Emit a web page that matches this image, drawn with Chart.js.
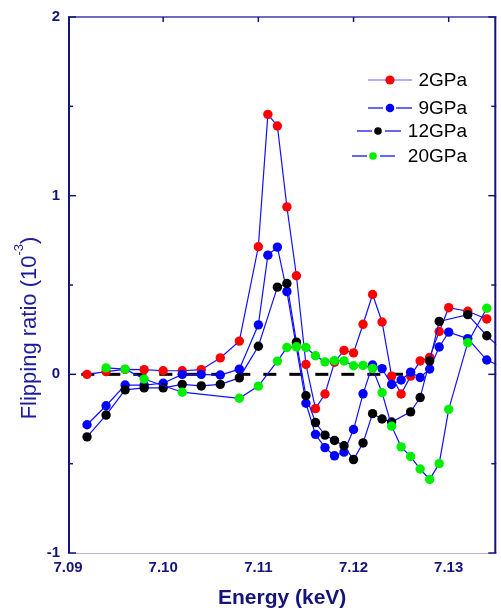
<!DOCTYPE html>
<html>
<head>
<meta charset="utf-8">
<script src="https://cdn.jsdelivr.net/npm/chart.js@4.4.0/dist/chart.umd.min.js"></script>
<style>
    body { margin: 0; background: #ffffff; }
    #wrap { width: 501px; height: 611px; }
</style>
</head>
<body>
<div id="wrap"><canvas id="myChart" width="501" height="611"></canvas></div>
<script>
    // series names as in the legend
    var seriesNames = ["2GPa", "9GPa", "12GPa", "20GPa"];
    var markerColors = ["#ff0000", "#0000ff", "#000000", "#00ee00"];

    // 2GPa
    var energy2 = [7.092, 7.094, 7.096, 7.098, 7.100, 7.102, 7.104, 7.106, 7.108, 7.110, 7.111, 7.112, 7.113, 7.114, 7.115, 7.116, 7.117, 7.118, 7.119, 7.120, 7.121, 7.122, 7.123, 7.124, 7.125, 7.126, 7.127, 7.128, 7.129, 7.130, 7.132, 7.134];
    var ratio2 = [0.00, 0.015, 0.028, 0.026, 0.02, 0.02, 0.026, 0.092, 0.186, 0.714, 1.455, 1.39, 0.937, 0.552, 0.055, -0.192, -0.11, 0.068, 0.134, 0.12, 0.28, 0.447, 0.293, -0.01, -0.11, -0.01, 0.075, 0.095, 0.24, 0.373, 0.353, 0.31];

    // 9GPa
    var energy9 = [7.092, 7.094, 7.096, 7.098, 7.100, 7.102, 7.104, 7.106, 7.108, 7.110, 7.111, 7.112, 7.113, 7.115, 7.116, 7.117, 7.118, 7.119, 7.120, 7.121, 7.122, 7.123, 7.124, 7.125, 7.126, 7.127, 7.128, 7.129, 7.130, 7.132, 7.134, 7.136];
    var ratio9 = [-0.282, -0.176, -0.06, -0.06, -0.05, 0.0, 0.0, -0.004, 0.029, 0.277, 0.667, 0.712, 0.463, -0.162, -0.336, -0.41, -0.456, -0.435, -0.309, -0.109, 0.052, 0.032, -0.057, -0.032, 0.012, -0.018, 0.03, 0.153, 0.236, 0.2, 0.08, 0.033];

    // 12GPa
    var energy12 = [7.092, 7.094, 7.096, 7.098, 7.100, 7.102, 7.104, 7.106, 7.108, 7.110, 7.112, 7.113, 7.114, 7.115, 7.116, 7.117, 7.118, 7.119, 7.120, 7.121, 7.122, 7.123, 7.124, 7.126, 7.127, 7.128, 7.129, 7.132, 7.134, 7.136];
    var ratio12 = [-0.35, -0.228, -0.087, -0.076, -0.076, -0.056, -0.065, -0.056, -0.02, 0.157, 0.488, 0.508, 0.18, -0.12, -0.27, -0.34, -0.37, -0.40, -0.477, -0.384, -0.22, -0.25, -0.267, -0.21, -0.13, 0.075, 0.296, 0.334, 0.216, 0.12];

    // 20GPa
    var energy20 = [7.094, 7.096, 7.098, 7.102, 7.108, 7.110, 7.112, 7.113, 7.114, 7.115, 7.116, 7.117, 7.118, 7.119, 7.120, 7.121, 7.122, 7.123, 7.124, 7.125, 7.126, 7.127, 7.128, 7.129, 7.130, 7.132, 7.134];
    var ratio20 = [0.036, 0.029, -0.026, -0.1, -0.134, -0.066, 0.074, 0.15, 0.154, 0.15, 0.104, 0.07, 0.077, 0.075, 0.048, 0.05, 0.033, -0.103, -0.29, -0.406, -0.46, -0.53, -0.588, -0.5, -0.196, 0.177, 0.37];

    // dashed zero line
    var zeroLineX = [7.0914, 7.1252];
    var zeroLineY = [0, 0];

    // axes
    var xTicks = [7.09, 7.10, 7.11, 7.12, 7.13];
    var yTicks = [-1, -0.5, 0, 0.5, 1, 1.5, 2];

    var navy = "#14147a";
    var fontName = '"Liberation Sans", Arial, sans-serif';

    function toPoints(xs, ys) {
        return xs.map(function (x, i) { return { x: x, y: ys[i] }; });
    }

    function seriesSet(i, xs, ys) {
        return {
            label: seriesNames[i],
            data: toPoints(xs, ys),
            borderColor: "#1010ff",
            borderWidth: 1.2,
            backgroundColor: markerColors[i],
            pointBackgroundColor: markerColors[i],
            pointBorderWidth: 0,
            pointRadius: 4.7,
            tension: 0,
            order: 4 - i
        };
    }

    // legend sample layout: line pieces, marker, text
    var legendRows = [
        { y: 80, l1: [368, 412], l2: null, mx: 390, r: 4.6, line: "#6060ff" },
        { y: 108, l1: [368, 383], l2: [396, 412], mx: 390, r: 4.3, line: "#0000ee" },
        { y: 131, l1: [357, 372], l2: [385, 401], mx: 378, r: 3.8, line: "#0000ee" },
        { y: 156, l1: [352, 367], l2: [380, 395], mx: 373, r: 3.8, line: "#0000ee" }
    ];

    var decorPlugin = {
        id: "decor",
        afterDraw: function (chart) {
            var ctx = chart.ctx, a = chart.chartArea;
            var xs = chart.scales.x, ys = chart.scales.y;
            ctx.save();

            // frame
            ctx.lineWidth = 1;
            ctx.strokeStyle = "#b4b4dc";
            ctx.beginPath(); ctx.moveTo(a.left, a.bottom + 0.5); ctx.lineTo(a.right, a.bottom + 0.5); ctx.stroke();
            ctx.lineWidth = 1.5;
            ctx.strokeStyle = "#3c3ca8";
            ctx.beginPath(); ctx.moveTo(a.left, a.top); ctx.lineTo(a.right, a.top); ctx.stroke();
            ctx.lineWidth = 2;
            ctx.strokeStyle = navy;
            ctx.beginPath(); ctx.moveTo(a.left + 1, a.top); ctx.lineTo(a.left + 1, a.bottom); ctx.stroke();
            ctx.beginPath(); ctx.moveTo(a.right - 1, a.top); ctx.lineTo(a.right - 1, a.bottom); ctx.stroke();

            // y ticks, inward on both sides
            ctx.lineWidth = 1.5;
            yTicks.forEach(function (v) {
                var p = ys.getPixelForValue(v);
                var len = Number.isInteger(v) ? 8 : 5;
                ctx.beginPath(); ctx.moveTo(a.left, p); ctx.lineTo(a.left + len, p); ctx.stroke();
                ctx.beginPath(); ctx.moveTo(a.right, p); ctx.lineTo(a.right - len, p); ctx.stroke();
            });
            // x ticks on top only
            xTicks.slice(1).forEach(function (v) {
                var p = xs.getPixelForValue(v);
                ctx.beginPath(); ctx.moveTo(p, a.top); ctx.lineTo(p, a.top + 5); ctx.stroke();
            });

            // x title
            ctx.fillStyle = navy;
            ctx.font = "bold 21px " + fontName;
            ctx.textAlign = "center";
            ctx.textBaseline = "middle";
            ctx.fillText("Energy (keV)", (a.left + a.right) / 2, 598);

            // y title with superscript
            ctx.save();
            ctx.translate(30, 328);
            ctx.rotate(-Math.PI / 2);
            ctx.fillStyle = "#1c1c9c";
            ctx.textAlign = "left";
            var main = "Flipping ratio (10", sup = "-3", end = ")";
            ctx.font = "22px " + fontName;
            var wm = ctx.measureText(main).width, we = ctx.measureText(end).width;
            ctx.font = "13px " + fontName;
            var ws = ctx.measureText(sup).width;
            var x0 = -(wm + ws + we) / 2;
            ctx.font = "22px " + fontName;
            ctx.fillText(main, x0, 0);
            ctx.fillText(end, x0 + wm + ws, 0);
            ctx.font = "13px " + fontName;
            ctx.fillText(sup, x0 + wm, -11);
            ctx.restore();

            // legend
            ctx.textAlign = "right";
            ctx.textBaseline = "middle";
            ctx.font = "19px " + fontName;
            legendRows.forEach(function (row, i) {
                ctx.strokeStyle = row.line;
                ctx.lineWidth = 1.2;
                ctx.beginPath(); ctx.moveTo(row.l1[0], row.y); ctx.lineTo(row.l1[1], row.y); ctx.stroke();
                if (row.l2) {
                    ctx.beginPath(); ctx.moveTo(row.l2[0], row.y); ctx.lineTo(row.l2[1], row.y); ctx.stroke();
                }
                ctx.fillStyle = markerColors[i];
                ctx.beginPath(); ctx.arc(row.mx, row.y, row.r, 0, Math.PI * 2); ctx.fill();
                ctx.fillStyle = "#000000";
                ctx.fillText(seriesNames[i], 467, row.y + 1);
            });

            ctx.restore();
        }
    };

    new Chart("myChart", {
        type: "line",
        data: {
            datasets: [
                seriesSet(0, energy2, ratio2),
                seriesSet(1, energy9, ratio9),
                seriesSet(2, energy12, ratio12),
                seriesSet(3, energy20, ratio20),
                {
                    label: "zero",
                    data: toPoints(zeroLineX, zeroLineY),
                    borderColor: "#000000",
                    borderWidth: 3,
                    borderDash: [13, 13],
                    pointRadius: 0,
                    order: 6
                }
            ]
        },
        options: {
            responsive: false,
            animation: false,
            layout: { padding: { top: 14, right: 2, left: 0, bottom: 0 } },
            plugins: {
                legend: { display: false },
                tooltip: { enabled: false }
            },
            scales: {
                x: {
                    type: "linear",
                    min: 7.09,
                    max: 7.135,
                    grid: { display: false, drawTicks: false },
                    border: { display: false },
                    afterBuildTicks: function (scale) {
                        scale.ticks = xTicks.map(function (v) { return { value: v }; });
                    },
                    afterFit: function (scale) { scale.height = 58; },
                    ticks: {
                        padding: 6,
                        color: navy,
                        font: { family: fontName, size: 15, weight: "bold" },
                        maxRotation: 0,
                        callback: function (v) { return Number(v).toFixed(2); }
                    }
                },
                y: {
                    min: -1,
                    max: 2,
                    grid: { display: false, drawTicks: false },
                    border: { display: false },
                    afterBuildTicks: function (scale) {
                        scale.ticks = yTicks.map(function (v) { return { value: v }; });
                    },
                    afterFit: function (scale) { scale.width = 68; },
                    ticks: {
                        padding: 8,
                        color: navy,
                        font: { family: fontName, size: 15, weight: "bold" },
                        callback: function (v) { return Number.isInteger(v) ? String(v) : ""; }
                    }
                }
            }
        },
        plugins: [decorPlugin]
    });
</script>
</body>
</html>
